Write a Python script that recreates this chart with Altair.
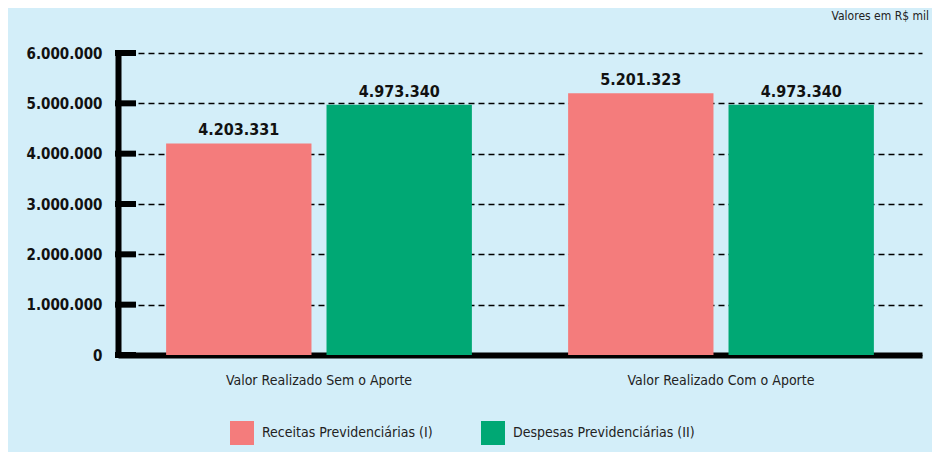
import altair as alt
import pandas as pd

categories = ["Valor Realizado Sem o Aporte", "Valor Realizado Com o Aporte"]
series = ["Receitas Previdenciárias (I)", "Despesas Previdenciárias (II)"]
receitas = [4203331, 5201323]
despesas = [4973340, 4973340]
y_ticks = [0, 1000000, 2000000, 3000000, 4000000, 5000000, 6000000]
colors = ["#F47C7C", "#00A874"]

rows = []
for i, c in enumerate(categories):
    rows.append({"cat": c, "serie": series[0], "valor": receitas[i]})
    rows.append({"cat": c, "serie": series[1], "valor": despesas[i]})
df = pd.DataFrame(rows)
ticks_df = pd.DataFrame({"valor": y_ticks})

FONT = "DejaVu Sans Condensed, Liberation Sans, sans-serif"

x = alt.X("cat:N", sort=categories, title=None,
          scale=alt.Scale(paddingInner=0, paddingOuter=0),
          axis=alt.Axis(labelAngle=0, labelFontSize=14, labelColor="#222222",
                        labelPadding=18, domainColor="black", domainWidth=6,
                        ticks=False, grid=False, labelFont=FONT, labelLimit=0))
y = alt.Y("valor:Q", title=None,
          scale=alt.Scale(domain=[0, 6000000]),
          axis=alt.Axis(values=y_ticks, format=",.0f", labelFontSize=15,
                        labelFontWeight="bold", labelColor="#111111",
                        labelPadding=16, ticks=False, domainColor="black",
                        domainWidth=6, grid=True, gridColor="black",
                        gridDash=[6, 4], gridWidth=1.5, gridOpacity=1,
                        labelFont=FONT, labelLimit=0))
xoff = alt.XOffset("serie:N", sort=series,
                   scale=alt.Scale(paddingInner=0.09375, paddingOuter=0.3))

bars = alt.Chart(df).mark_bar().encode(
    x=x, y=y, xOffset=xoff,
    color=alt.Color("serie:N", sort=series,
                    scale=alt.Scale(domain=series, range=colors),
                    legend=alt.Legend(title=None, orient="none", legendX=112,
                                      legendY=368, direction="horizontal",
                                      symbolType="square", symbolSize=576,
                                      symbolStrokeWidth=0, labelFontSize=14,
                                      labelColor="#222222", labelFont=FONT,
                                      columnPadding=48, labelOffset=8,
                                      labelLimit=0)),
)

labels = alt.Chart(df).mark_text(dy=-13, fontSize=16, fontWeight="bold",
                                 color="#111111", font=FONT).encode(
    x=alt.X("cat:N", sort=categories), y=y, xOffset=xoff,
    text=alt.Text("valor:Q", format=",.0f"),
)

tick_rules = alt.Chart(ticks_df).mark_rule(color="black", strokeWidth=6).encode(
    y=y, x=alt.value(-3), x2=alt.value(18),
)

chart = alt.layer(bars, labels, tick_rules).properties(
    width=804, height=302,
    padding={"left": 110, "top": 45, "right": 10, "bottom": 97},
    autosize=alt.AutoSizeParams(type="none"),
    background="#D3EEF9",
    title=alt.TitleParams("Valores em R$ mil", anchor="end", fontSize=12,
                          fontWeight="normal", color="#222222", offset=23,
                          dx=7, font=FONT),
).configure_view(stroke=None)

chart.save("out.html", embed_options={
    "renderer": "svg", "actions": False,
    "formatLocale": {"decimal": ",", "thousands": ".", "grouping": [3],
                     "currency": ["R$", ""]},
})
